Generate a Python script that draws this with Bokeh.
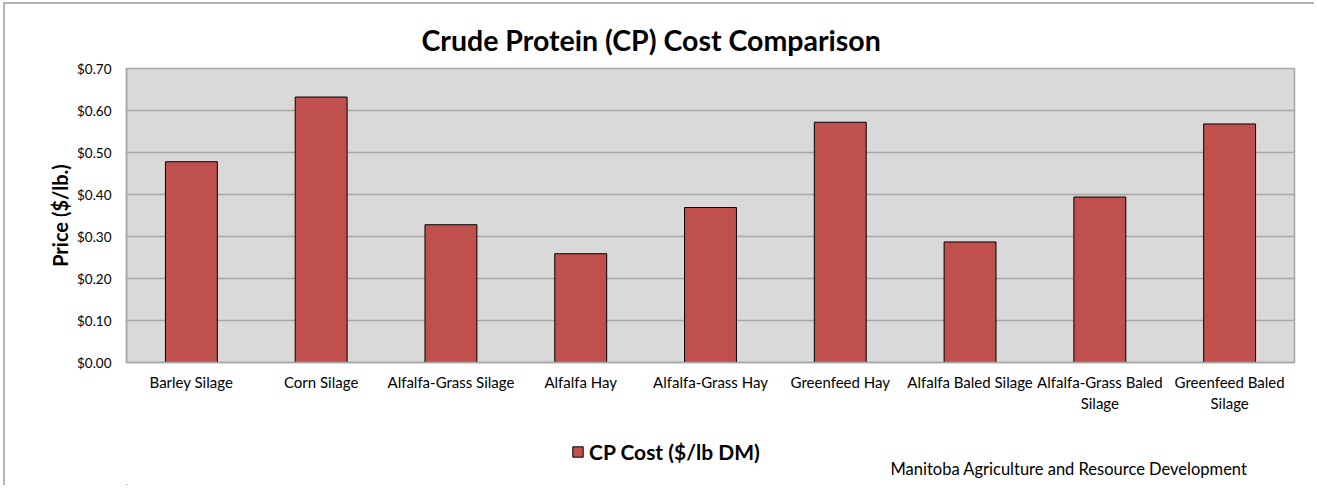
from bokeh.plotting import figure
from bokeh.layouts import column
from bokeh.models import (ColumnDataSource, Legend, LegendItem, Label,
                          NumeralTickFormatter, FixedTicker, FactorRange)
from bokeh.embed import file_html
from bokeh.resources import INLINE

# ---------------- data ----------------
categories = ["Barley Silage", "Corn Silage", "Alfalfa-Grass Silage", "Alfalfa Hay",
              "Alfalfa-Grass Hay", "Greenfeed Hay", "Alfalfa Baled Silage",
              "Alfalfa-Grass Baled\nSilage", "Greenfeed Baled\nSilage"]
cp_cost = [0.478, 0.632, 0.328, 0.259, 0.369, 0.572, 0.287, 0.394, 0.568]
y_ticks = [0.0, 0.1, 0.2, 0.3, 0.4, 0.5, 0.6, 0.7]
series_name = "CP Cost ($/lb DM)"
title_text = "Crude Protein (CP) Cost Comparison"
y_label = "Price ($/lb.)"
footer = "Manitoba Agriculture and Resource Development"

FONT = "Lato"
BAR = "#c0504d"
GRID = "#a6a6a6"
EDGE = "#b4b4b4"

# page origin of the canvas content (3px/2px margin + 2px border)
OX, OY = 5, 4
W = 1311
FL = 126                      # frame left on the page
ML, MT = FL - OX, 68 - OY
FW, FH = 1168, 294
MR = W - ML - FW
PH = 420 - 4
QH = 67

p = figure(x_range=FactorRange(*categories, range_padding=0), y_range=(0, 0.7),
           width=W, height=PH, output_backend="svg", toolbar_location=None,
           min_border_left=ML, min_border_top=MT,
           min_border_right=MR, min_border_bottom=PH - MT - FH,
           background_fill_color="#d9d9d9", border_fill_color="white",
           styles={"margin-left": "3px", "margin-top": "2px",
                   "border-left": f"2px solid {EDGE}",
                   "border-top": f"2px solid {EDGE}"})

src = ColumnDataSource(dict(cat=categories, val=cp_cost))
r = p.vbar(x="cat", top="val", width=0.4, source=src, fill_color=BAR,
           line_color="black", line_width=1)

p.outline_line_color = GRID
p.outline_line_width = 1.5

# y axis
p.yaxis.ticker = FixedTicker(ticks=y_ticks)
p.yaxis.formatter = NumeralTickFormatter(format="$0.00")
p.yaxis.axis_line_color = GRID
p.yaxis.axis_line_width = 1.5
p.yaxis.major_tick_line_color = None
p.yaxis.minor_tick_line_color = None
p.yaxis.major_tick_out = 0
p.yaxis.major_tick_in = 0
p.yaxis.major_label_standoff = 15
p.yaxis.major_label_text_font = FONT
p.yaxis.major_label_text_font_size = "13.5px"
p.yaxis.major_label_text_color = "black"
p.yaxis.axis_label = y_label
p.yaxis.axis_label_text_font = FONT
p.yaxis.axis_label_text_font_style = "bold"
p.yaxis.axis_label_text_font_size = "20px"
p.yaxis.axis_label_text_color = "black"
p.yaxis.axis_label_standoff = 2

# x axis
p.xaxis.axis_line_color = GRID
p.xaxis.axis_line_width = 1.5
p.xaxis.major_tick_line_color = None
p.xaxis.minor_tick_line_color = None
p.xaxis.major_tick_out = 0
p.xaxis.major_tick_in = 0
p.xaxis.major_label_standoff = 10
p.xaxis.major_label_text_font = FONT
p.xaxis.major_label_text_font_size = "15px"
p.xaxis.major_label_text_color = "black"

p.xgrid.grid_line_color = None
p.ygrid.grid_line_color = GRID
p.ygrid.grid_line_width = 1.5
p.ygrid.ticker = FixedTicker(ticks=y_ticks)

# title
p.title.text = title_text
p.title.align = "left"
p.title.offset = 421 - FL
p.title.standoff = 24
p.title.text_font = FONT
p.title.text_font_style = "bold"
p.title.text_font_size = "28.5px"
p.title.text_color = "black"

# ---- bottom strip: legend + footer (x in pixels from the frame's left edge) ----
q = figure(x_range=(0, FW), y_range=(0, QH), width=W, height=QH,
           output_backend="svg", toolbar_location=None,
           min_border_left=ML, min_border_right=MR,
           min_border_top=0, min_border_bottom=0,
           background_fill_color="white", border_fill_color="white",
           styles={"margin-left": "3px", "border-left": f"2px solid {EDGE}"})
q.axis.visible = False
q.grid.visible = False
q.outline_line_color = None
# legend key renderer (kept outside the visible range; only its swatch is shown)
rq = q.vbar(x=[-500], top=[1], width=1, fill_color=BAR, line_color="black", line_width=1)

legend = Legend(items=[LegendItem(label=series_name, renderers=[rq])],
                location=(571 - FL, 21), padding=0, margin=0, spacing=0,
                glyph_width=13, glyph_height=13, label_standoff=5,
                border_line_alpha=0, background_fill_alpha=0,
                label_text_font=FONT, label_text_font_style="bold",
                label_text_font_size="21px", label_text_color="black")
q.add_layout(legend, "center")

q.add_layout(Label(x=890 - FL, y=17, text=footer, text_align="left",
                   text_baseline="middle", text_font=FONT, text_font_size="16.5px",
                   text_color="black"))

layout = column(p, q, spacing=0)

open("out.html", "w").write(file_html(layout, INLINE))
